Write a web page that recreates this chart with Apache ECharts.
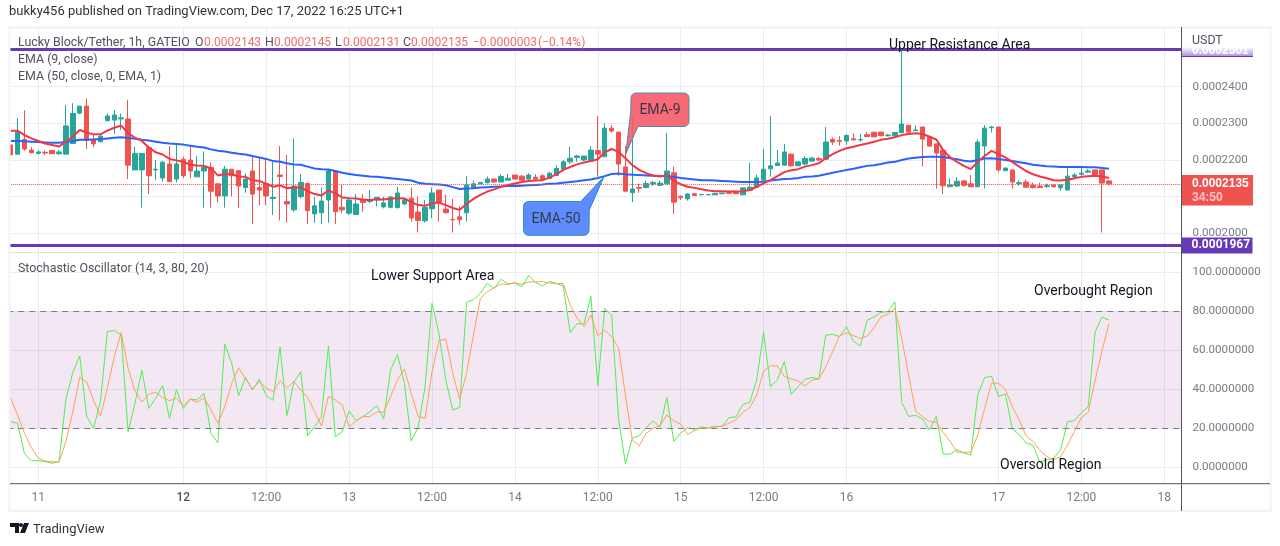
<!DOCTYPE html>
<html>
<head>
<meta charset="utf-8">
<style>
  html, body { margin: 0; padding: 0; background: #fff; }
  #chart { width: 1280px; height: 546px; }
</style>
<script src="https://cdn.jsdelivr.net/npm/echarts@6/dist/echarts.min.js"></script>
</head>
<body>
<div id="chart"></div>
<script>
// prices are in units of 0.0000001, so 2135 = 0.0002135
const opens = [
  2241,2216,2256,2227,2218,2221,2226,2217,2216,2245,
  2328,2347,2256,2250,2307,2309,2312,2312,2173,2173,
  2234,2173,2151,2189,2148,2202,2200,2154,2170,2180,
  2135,2102,2175,2171,2125,2170,2125,2136,2095,2159,
  2087,2064,2100,2136,2053,2056,2091,2170,2071,2055,
  2051,2092,2087,2091,2072,2071,2070,2080,2096,2058,
  2034,2067,2118,2066,2038,2045,2056,2126,2135,2138,
  2148,2140,2145,2159,2156,2148,2153,2157,2150,2158,
  2175,2195,2207,2200,2197,2226,2209,2287,2276,2181,
  2111,2125,2125,2135,2131,2135,2165,2101,2094,2108,
  2105,2105,2105,2108,2111,2113,2105,2117,2125,2145,
  2176,2185,2186,2216,2184,2189,2197,2204,2202,2256,
  2253,2252,2258,2255,2269,2276,2276,2266,2266,2275,
  2295,2280,2290,2264,2244,2227,2127,2129,2143,2135,
  2127,2238,2288,2290,2171,2173,2136,2140,2131,2129,
  2128,2132,2124,2118,2155,2161,2167,2173,2173,2143
];
const closes = [
  2214,2277,2230,2220,2222,2219,2217,2222,2293,2327,
  2347,2253,2244,2265,2320,2323,2315,2186,2218,2218,
  2157,2175,2194,2141,2189,2157,2170,2170,2180,2115,
  2102,2175,2157,2129,2148,2107,2118,2102,2098,2155,
  2080,2129,2139,2062,2075,2088,2170,2059,2064,2091,
  2080,2084,2091,2098,2083,2099,2110,2091,2042,2035,
  2071,2110,2085,2056,2037,2037,2132,2135,2139,2148,
  2140,2155,2150,2148,2145,2159,2148,2146,2164,2177,
  2195,2205,2211,2211,2227,2216,2287,2279,2189,2115,
  2121,2123,2136,2139,2137,2170,2085,2097,2107,2103,
  2106,2106,2109,2110,2109,2108,2124,2126,2151,2175,
  2184,2192,2222,2184,2195,2204,2205,2200,2249,2249,
  2251,2267,2255,2256,2264,2263,2266,2268,2275,2298,
  2276,2282,2257,2238,2219,2130,2132,2142,2131,2127,
  2249,2287,2290,2173,2178,2140,2138,2126,2125,2125,
  2130,2127,2132,2156,2159,2164,2170,2158,2137,2135
];
const highs = [
  2241,2314,2336,2235,2227,2226,2226,2227,2350,2355,
  2347,2368,2271,2271,2327,2336,2327,2364,2236,2218,
  2236,2200,2198,2238,2241,2209,2238,2211,2223,2194,
  2135,2184,2175,2171,2164,2209,2207,2202,2195,2238,
  2214,2259,2162,2138,2100,2125,2173,2173,2132,2095,
  2107,2107,2118,2098,2100,2100,2127,2095,2125,2100,
  2091,2125,2118,2105,2094,2073,2156,2144,2139,2155,
  2150,2161,2162,2159,2159,2164,2162,2162,2168,2186,
  2200,2236,2214,2211,2238,2320,2300,2295,2278,2238,
  2320,2136,2144,2143,2144,2274,2182,2103,2110,2108,
  2106,2106,2109,2110,2116,2116,2124,2192,2160,2230,
  2320,2227,2244,2218,2195,2211,2209,2209,2290,2262,
  2265,2270,2273,2271,2277,2276,2276,2271,2277,2500,
  2295,2295,2290,2264,2245,2227,2150,2153,2145,2159,
  2256,2295,2293,2290,2180,2173,2145,2147,2139,2138,
  2136,2134,2132,2179,2164,2179,2175,2173,2173,2145
];
const lows = [
  2214,2214,2225,2218,2215,2214,2217,2214,2216,2245,
  2325,2230,2235,2248,2307,2271,2282,2148,2173,2070,
  2107,2145,2141,2141,2139,2150,2150,2154,2070,2070,
  2084,2070,2100,2070,2111,2025,2077,2077,2050,2035,
  2029,2059,2095,2025,2029,2025,2029,2025,2055,2050,
  2050,2059,2082,2073,2068,2068,2068,2077,2032,2002,
  2029,2041,2032,2055,2002,2023,2032,2125,2135,2136,
  2138,2139,2145,2147,2145,2146,2147,2145,2149,2158,
  2175,2189,2195,2197,2197,2155,2209,2275,2157,2112,
  2085,2111,2123,2129,2129,2135,2053,2091,2089,2103,
  2105,2105,2105,2108,2107,2107,2105,2117,2124,2145,
  2155,2185,2184,2182,2184,2186,2195,2198,2202,2241,
  2239,2241,2253,2250,2264,2263,2266,2265,2265,2273,
  2276,2279,2182,2236,2122,2107,2127,2127,2127,2126,
  2127,2122,2275,2167,2170,2122,2130,2125,2122,2124,
  2123,2125,2116,2118,2150,2158,2164,2156,2002,2131
];
const ema9 = [
  2280,2280,2268,2259,2252,2245,2241,2237,2250,2264,
  2282,2275,2270,2270,2280,2288,2294,2273,2261,2252,
  2234,2221,2215,2203,2199,2195,2187,2185,2184,2177,
  2158,2162,2161,2155,2154,2145,2143,2135,2127,2131,
  2123,2125,2125,2115,2107,2103,2117,2109,2098,2096,
  2095,2092,2091,2093,2092,2094,2096,2095,2085,2077,
  2075,2082,2084,2077,2069,2064,2080,2094,2105,2114,
  2120,2127,2132,2136,2140,2143,2144,2145,2152,2161,
  2173,2181,2188,2193,2197,2202,2221,2230,2222,2205,
  2186,2173,2164,2158,2156,2158,2143,2134,2127,2124,
  2120,2117,2115,2115,2114,2114,2115,2118,2127,2136,
  2145,2156,2167,2172,2175,2182,2186,2191,2205,2216,
  2225,2232,2236,2241,2245,2250,2255,2258,2262,2268,
  2271,2273,2271,2264,2256,2227,2207,2195,2184,2175,
  2195,2211,2225,2216,2207,2195,2182,2170,2161,2155,
  2150,2145,2144,2146,2150,2154,2156,2157,2155,2151
];
const ema50 = [
  2252,2252,2251,2250,2249,2248,2247,2247,2249,2252,
  2255,2255,2256,2257,2259,2261,2262,2260,2258,2255,
  2253,2250,2247,2245,2244,2242,2239,2236,2234,2229,
  2225,2223,2220,2217,2215,2211,2207,2203,2197,2195,
  2191,2188,2187,2182,2177,2175,2174,2170,2165,2162,
  2159,2157,2155,2154,2152,2150,2148,2146,2144,2138,
  2135,2134,2133,2131,2126,2121,2122,2123,2125,2126,
  2127,2128,2129,2129,2130,2131,2132,2133,2135,2136,
  2138,2140,2142,2145,2147,2151,2156,2162,2163,2161,
  2160,2159,2158,2157,2156,2157,2154,2151,2149,2147,
  2145,2145,2144,2143,2142,2141,2140,2140,2140,2141,
  2144,2146,2148,2149,2151,2154,2155,2157,2161,2165,
  2169,2173,2176,2180,2184,2186,2189,2193,2195,2200,
  2204,2206,2208,2209,2209,2208,2205,2202,2198,2196,
  2200,2204,2205,2203,2200,2197,2194,2191,2187,2185,
  2183,2182,2181,2181,2181,2181,2180,2180,2178,2176
];
const stochK = [
  23.4,22.6,7.0,3.4,3.4,2.9,2.1,2.9,34.9,48.7,
  57.1,26.1,20.0,33.7,69.6,70.2,67.8,18.3,32.8,49.9,
  30.2,35.4,41.9,25.1,39.8,30.2,35.0,34.5,37.9,17.4,
  12.6,63.2,53.3,36.7,46.1,39.6,45.1,36.7,34.4,61.7,
  26.5,43.6,49.0,16.2,20.8,26.1,62.2,15.7,18.3,28.9,
  23.9,26.0,28.5,31.6,24.8,49.9,57.9,43.1,13.5,20.8,
  41.4,84.1,68.7,44.8,29.4,30.8,84.6,86.0,89.2,94.3,
  91.8,96.4,94.0,94.5,92.6,98.3,94.8,93.1,95.4,94.3,
  93.0,69.0,73.7,73.5,87.7,41.9,81.5,78.1,25.1,1.9,
  14.9,16.2,20.3,23.8,20.7,35.9,13.2,17.6,20.3,19.5,
  20.7,20.2,21.0,21.0,25.5,25.8,32.3,33.3,44.8,69.2,
  41.4,44.9,54.2,37.4,41.4,45.1,46.1,45.3,67.7,68.2,
  67.0,72.1,64.8,62.2,75.5,77.1,79.5,79.8,84.9,33.3,
  26.1,26.7,24.8,19.1,26.1,6.8,6.7,9.1,7.3,6.2,
  37.1,46.0,46.7,36.4,37.6,19.7,16.9,12.5,11.3,2.6,
  3.8,4.6,9.1,23.4,23.9,28.0,31.1,69.6,77.1,75.5
];
const stochD = [
  35.7,26.8,17.4,10.1,4.6,3.2,2.9,2.7,13.2,28.5,
  46.1,43.9,34.2,26.3,40.5,56.7,69.0,50.8,39.1,33.5,
  37.4,38.5,35.7,34.2,35.4,31.6,34.9,33.3,35.7,29.4,
  22.6,31.1,43.1,51.1,45.3,40.2,43.9,40.5,38.8,44.3,
  40.8,43.9,39.6,35.9,28.5,21.2,36.4,34.5,32.0,20.8,
  23.8,26.1,26.0,28.5,28.2,36.2,44.8,50.4,37.9,26.0,
  25.1,49.0,64.8,65.8,48.2,35.0,48.2,67.8,86.6,90.1,
  92.1,94.0,93.8,94.7,93.8,95.0,95.2,95.2,94.5,94.3,
  94.2,83.2,76.4,72.1,78.1,67.5,70.4,67.0,61.4,37.1,
  14.0,11.1,17.4,20.0,21.4,26.8,23.8,22.2,16.9,18.8,
  20.2,20.2,20.7,21.0,22.7,24.3,28.2,30.6,37.1,49.4,
  52.0,52.0,46.5,45.3,44.3,41.7,44.8,45.3,51.6,59.3,
  67.3,69.0,67.5,66.1,67.3,71.6,77.2,78.6,81.5,66.1,
  47.3,28.9,26.0,23.4,23.1,17.9,13.2,7.7,7.7,7.7,
  16.6,30.2,43.1,43.1,40.0,31.1,24.3,16.1,13.2,8.7,
  5.5,3.9,5.5,11.5,18.3,25.5,28.2,44.8,59.8,73.8
];
const tickIndex = [4, 25, 37, 49, 61, 73, 85, 97, 109, 121, 143, 155, 167];
const tickLabels = ['11', '12', '12:00', '13', '12:00', '14', '12:00', '15', '12:00', '16', '17', '12:00', '18'];
const resistance = 2503;
const support = 1967;
const lastPrice = 2135;
const countdown = '34:50';
const ohlcText = ['0.0002143', '0.0002145', '0.0002131', '0.0002135'];

// 160 bars plus the empty space on the right of the last one
const categories = [];
for (let i = 0; i < 170; i++) {
  const t = tickIndex.indexOf(i);
  categories.push(t >= 0 ? tickLabels[t] : String(i));
}
const candles = opens.map((o, i) => [o, closes[i], lows[i], highs[i]]);

const FONT = 'Roboto, "Noto Sans", sans-serif';
const GRID = '#e6edf3';
const TEXT = '#50535e';
const LABEL = '#787b86';
const PURPLE = '#673ab7';
const UP = '#26a69a';
const DOWN = '#ef5350';

const isTick = (i) => tickIndex.indexOf(i) >= 0;
const price = (v) => (v / 1e7).toFixed(7);

function txt(x, y, text, color, size, extra) {
  return {
    type: 'text', x: x, y: y + 1, z: 100,
    style: Object.assign({ text: text, fill: color, font: (size || 12.4) + 'px ' + FONT, textVerticalAlign: 'middle' }, extra || {})
  };
}

// corner of a rounded box as a few polygon points
function corner(cx, cy, r, from) {
  const pts = [];
  for (let k = 0; k <= 4; k++) {
    const a = from + k * Math.PI / 8;
    pts.push([cx + r * Math.cos(a), cy + r * Math.sin(a)]);
  }
  return pts;
}

function callout(points, fill, border) {
  return {
    type: 'polygon', z: 90,
    shape: { points: points },
    style: { fill: fill, stroke: border, lineWidth: 1 }
  };
}

const ema9Box = [].concat(
  corner(636, 98, 5, Math.PI),
  corner(684, 98, 5, -Math.PI / 2),
  corner(684, 121.5, 5, 0),
  [[638, 126.5], [625.7, 154], [630.7, 112]]
);
const ema50Box = [].concat(
  corner(528.5, 206.5, 5, Math.PI),
  [[580.7, 201.5], [604, 176.7], [589.3, 210]],
  corner(584, 230.3, 5, 0),
  corner(528.5, 230.3, 5, Math.PI / 2)
);

const graphics = [
  // frame around the chart
  { type: 'rect', z: 80, shape: { x: 0, y: 26, width: 9, height: 486 }, style: { fill: '#fff' } },
  { type: 'rect', z: 81, shape: { x: 9.5, y: 27.5, width: 1261, height: 483.5 }, style: { fill: 'none', stroke: '#f0f3fa', lineWidth: 2 } },
  { type: 'line', z: 82, shape: { x1: 10, y1: 483.7, x2: 1270, y2: 483.7 }, style: { stroke: '#50535e', lineWidth: 1 } },
  { type: 'line', z: 82, shape: { x1: 1181.5, y1: 27, x2: 1181.5, y2: 511 }, style: { stroke: '#50535e', lineWidth: 1 } },

  // resistance price tag cut by the pane top
  {
    type: 'rect', z: 85, shape: { x: 1182, y: 47, width: 71, height: 10 },
    style: { fill: { type: 'linear', x: 0, y: 0, x2: 0, y2: 1, colorStops: [{ offset: 0, color: '#fff' }, { offset: 1, color: '#a68bd4' }] } }
  },
  { type: 'line', z: 86, shape: { x1: 1182, y1: 56.5, x2: 1253, y2: 56.5 }, style: { stroke: PURPLE, lineWidth: 1 } },
  txt(1192, 49.5, '0.0002501', '#fff', 11.6, { fontWeight: 'bold' }),

  // last price tag
  { type: 'rect', z: 85, shape: { x: 1182, y: 175, width: 71, height: 30.5 }, style: { fill: DOWN } },
  txt(1192, 183, price(lastPrice), '#fff', 12, { fontWeight: 'bold' }),
  txt(1192, 197, countdown, '#fbc7c6', 12, { fontWeight: 'bold' }),

  // header, footer
  txt(9, 11, 'bukky456 published on TradingView.com, Dec 17, 2022 16:25 UTC+1', '#333', 13),
  txt(33, 529, 'TradingView', '#333', 13),
  { type: 'polygon', z: 100, shape: { points: [[10, 523], [19, 523], [19, 533], [15, 533], [15, 527], [10, 527]] }, style: { fill: '#131722' } },
  { type: 'circle', z: 100, shape: { cx: 21, cy: 525, r: 2 }, style: { fill: '#131722' } },
  { type: 'polygon', z: 100, shape: { points: [[24, 523], [29, 523], [25, 533], [20, 533]] }, style: { fill: '#131722' } },

  // legends
  txt(18, 42, 'Lucky Block/Tether, 1h, GATEIO', TEXT),
  txt(195, 42, 'O', TEXT), txt(204, 42, ohlcText[0], '#f26d6a', 12),
  txt(265, 42, 'H', TEXT), txt(274, 42, ohlcText[1], '#f26d6a', 12),
  txt(335, 42, 'L', TEXT), txt(343, 42, ohlcText[2], '#f26d6a', 12),
  txt(403, 42, 'C', TEXT), txt(411, 42, ohlcText[3], '#f26d6a', 12),
  txt(473, 42, '\u22120.0000003', '#f26d6a', 12),
  txt(538, 42, '(\u22120.14%)', '#f26d6a', 12),
  txt(18, 59, 'EMA (9, close)', TEXT),
  txt(18, 76, 'EMA (50, close, 0, EMA, 1)', TEXT),
  txt(18, 268, 'Stochastic Oscillator (14, 3, 80, 20)', TEXT),
  txt(1192, 40, 'USDT', TEXT),

  // text notes drawn on the chart
  txt(889, 44.5, 'Upper Resistance Area', '#131722', 14),
  txt(371, 275, 'Lower Support Area', '#131722', 14),
  txt(1034, 290, 'Overbought Region', '#131722', 14),
  txt(1000, 464, 'Oversold Region', '#131722', 14),

  // callouts
  callout(ema9Box, 'rgba(247,90,104,0.9)', '#4f8fa5'),
  callout(ema50Box, 'rgba(80,130,255,0.92)', '#2b8fc0'),
  txt(660, 109, 'EMA-9', '#363a45', 14, { textAlign: 'center' }),
  txt(556, 218, 'EMA-50', '#363a45', 14, { textAlign: 'center' })
];

const chart = echarts.init(document.getElementById('chart'), null, { renderer: 'canvas' });

chart.setOption({
  animation: false,
  backgroundColor: '#fff',
  textStyle: { fontFamily: FONT },
  grid: [
    { left: 7.2, right: 98.5, top: 28, height: 224, containLabel: false },
    { left: 7.2, right: 98.5, top: 252.3, height: 231.4, containLabel: false }
  ],
  xAxis: [
    {
      type: 'category', gridIndex: 0, data: categories, boundaryGap: true,
      axisLine: { show: true, lineStyle: { color: '#dfe3e8' } },
      axisTick: { show: false }, axisLabel: { show: false },
      splitLine: { show: true, alignWithLabel: true, interval: isTick, lineStyle: { color: GRID } }
    },
    {
      type: 'category', gridIndex: 1, data: categories, boundaryGap: true,
      axisLine: { show: false }, axisTick: { show: false },
      axisLabel: {
        interval: isTick, color: LABEL, fontSize: 12, margin: 8, fontFamily: FONT,
        formatter: (v) => (v === '12' ? '{b|12}' : v),
        rich: { b: { color: '#50535e', fontWeight: 500, fontSize: 12, fontFamily: FONT } }
      },
      splitLine: { show: true, alignWithLabel: true, interval: isTick, lineStyle: { color: GRID } }
    }
  ],
  yAxis: [
    {
      type: 'value', gridIndex: 0, position: 'right', min: 1949, max: 2560.2, splitNumber: 6, scale: true,
      axisLine: { show: false }, axisTick: { show: false },
      axisLabel: {
        color: LABEL, fontSize: 11.6, margin: 11, padding: [2, 0, 0, 0], fontFamily: FONT, showMinLabel: false, showMaxLabel: false,
        formatter: (v) => (v === 2500 ? '' : price(v))
      },
      splitLine: { show: true, showMinLine: false, showMaxLine: false, lineStyle: { color: GRID } }
    },
    {
      type: 'value', gridIndex: 1, position: 'right', min: -8.41, max: 110.26, splitNumber: 6, scale: true,
      axisLine: { show: false }, axisTick: { show: false },
      axisLabel: {
        color: LABEL, fontSize: 11.6, margin: 11, padding: [2, 0, 0, 0], fontFamily: FONT, showMinLabel: false, showMaxLabel: false,
        formatter: (v) => v.toFixed(7)
      },
      splitLine: { show: true, showMinLine: false, showMaxLine: false, lineStyle: { color: GRID } }
    }
  ],
  series: [
    {
      name: 'Lucky Block/Tether', type: 'candlestick', xAxisIndex: 0, yAxisIndex: 0, data: candles, barWidth: 5, z: 3,
      itemStyle: { color: UP, color0: DOWN, borderColor: UP, borderColor0: DOWN, borderWidth: 1 }
    },
    {
      name: 'EMA 50', type: 'line', xAxisIndex: 0, yAxisIndex: 0, data: ema50, showSymbol: false, z: 4,
      lineStyle: { color: '#2962ff', width: 2 }
    },
    {
      name: 'EMA 9', type: 'line', xAxisIndex: 0, yAxisIndex: 0, data: ema9, showSymbol: false, z: 5,
      lineStyle: { color: '#f23645', width: 2 }
    },
    {
      name: 'levels', type: 'line', xAxisIndex: 0, yAxisIndex: 0, data: [], z: 6,
      markLine: {
        silent: true, symbol: 'none', animation: false,
        data: [
          { yAxis: resistance, lineStyle: { color: PURPLE, width: 3, type: 'solid' }, label: { show: false } },
          {
            yAxis: support, lineStyle: { color: PURPLE, width: 3, type: 'solid' },
            label: {
              position: 'end', distance: 0, formatter: price(support), color: '#fff', fontWeight: 'bold', fontSize: 12,
              fontFamily: FONT, backgroundColor: PURPLE, width: 61, height: 16, lineHeight: 16, padding: [0, 0, 0, 10], align: 'left'
            }
          },
          { yAxis: lastPrice, lineStyle: { color: DOWN, width: 1, type: 'dotted' }, label: { show: false } }
        ]
      }
    },
    {
      name: '%K', type: 'line', xAxisIndex: 1, yAxisIndex: 1, data: stochK, showSymbol: false, z: 4,
      lineStyle: { color: '#4ff04f', width: 1 },
      markArea: {
        silent: true,
        itemStyle: { color: 'rgba(140,40,140,0.11)' },
        data: [[{ yAxis: 80 }, { yAxis: 20 }]]
      },
      markLine: {
        silent: true, symbol: 'none', label: { show: false },
        lineStyle: { color: '#787b86', type: [6, 5], width: 1 },
        data: [{ yAxis: 80 }, { yAxis: 20 }]
      }
    },
    {
      name: '%D', type: 'line', xAxisIndex: 1, yAxisIndex: 1, data: stochD, showSymbol: false, z: 5,
      lineStyle: { color: '#ffa057', width: 1 }
    }
  ],
  graphic: { elements: graphics }
});
</script>
</body>
</html>
